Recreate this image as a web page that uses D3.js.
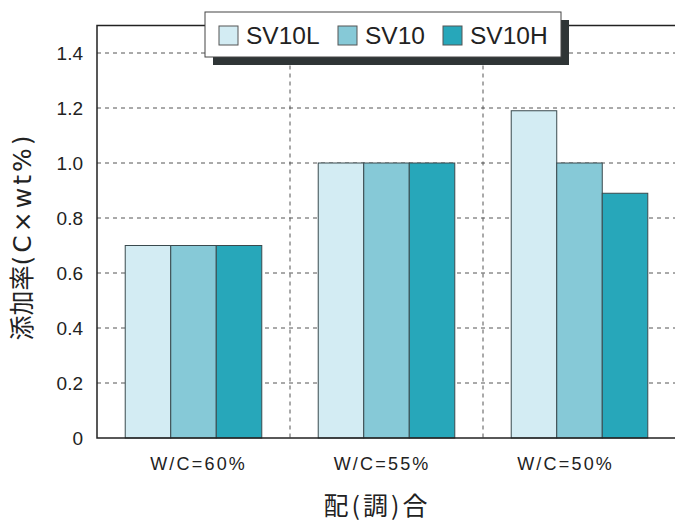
<!DOCTYPE html>
<html>
<head>
<meta charset="utf-8">
<script src="https://cdn.jsdelivr.net/npm/d3@7"></script>
<style>
  html, body { margin: 0; padding: 0; background: #fff; }
  svg { display: block; }
</style>
</head>
<body>
<svg id="chart" width="675" height="521"></svg>
<script>
// Mix designs (water/cement ratio) along the x axis
const categories = ["W/C=60%", "W/C=55%", "W/C=50%"];
// Admixture series
const seriesNames = ["SV10L", "SV10", "SV10H"];
const seriesColors = ["#d3ecf3", "#86c9d7", "#27a7ba"];
// Dosage (C×wt%) per series, one value per mix
const valuesSV10L = [0.70, 1.00, 1.19];
const valuesSV10 = [0.70, 1.00, 1.00];
const valuesSV10H = [0.70, 1.00, 0.89];
const yTicks = [0, 0.2, 0.4, 0.6, 0.8, 1.0, 1.2, 1.4];
const yTitleMain = "添加率";
const yTitleUnit = "(C×wt%)";
const xTitle = "配(調)合";

const seriesValues = [valuesSV10L, valuesSV10, valuesSV10H];

const svg = d3.select("#chart");
const plotLeft = 97, plotRight = 676, plotTop = 25.5, plotBottom = 438;

const x = d3.scaleBand().domain(categories).range([plotLeft, plotRight]).paddingInner(0).paddingOuter(0);
const xs = d3.scaleBand().domain(seriesNames).range([0, x.bandwidth()]).paddingInner(0).paddingOuter(0.62);
// category captions sit on a slightly tighter spread than the bar groups
const xLabel = d3.scalePoint().domain(categories).range([197, 564]);
const y = d3.scaleLinear().domain([0, 1.5]).range([plotBottom, plotTop]);

// Horizontal dashed gridlines
svg.append("g")
  .selectAll("line")
  .data(yTicks.filter(d => d > 0))
  .join("line")
  .attr("x1", plotLeft).attr("x2", plotRight)
  .attr("y1", d => y(d)).attr("y2", d => y(d))
  .attr("stroke", "#555").attr("stroke-width", 1)
  .attr("stroke-dasharray", "4,4");

// Vertical dashed separators between mixes
svg.append("g")
  .selectAll("line")
  .data(categories.slice(1))
  .join("line")
  .attr("x1", d => x(d)).attr("x2", d => x(d))
  .attr("y1", plotTop).attr("y2", plotBottom)
  .attr("stroke", "#555").attr("stroke-width", 1)
  .attr("stroke-dasharray", "4,4");

// Bars
const groups = svg.append("g")
  .selectAll("g")
  .data(categories)
  .join("g")
  .attr("transform", d => `translate(${x(d)},0)`);

groups.selectAll("rect")
  .data((c, i) => seriesNames.map((s, k) => ({ s, k, v: seriesValues[k][i] })))
  .join("rect")
  .attr("x", d => xs(d.s))
  .attr("width", xs.bandwidth())
  .attr("y", d => y(d.v))
  .attr("height", d => plotBottom - y(d.v))
  .attr("fill", d => seriesColors[d.k])
  .attr("stroke", "#3a4a4e")
  .attr("stroke-width", 1);

// Plot frame
svg.append("rect")
  .attr("x", plotLeft).attr("y", plotTop)
  .attr("width", plotRight - plotLeft).attr("height", plotBottom - plotTop)
  .attr("fill", "none").attr("stroke", "#222").attr("stroke-width", 1.5);

// Y axis labels
const yAxis = d3.axisLeft(y).tickValues(yTicks)
  .tickFormat(d => d === 0 ? "0" : d3.format(".1f")(d))
  .tickSize(0).tickPadding(14);
const gy = svg.append("g").attr("transform", `translate(${plotLeft},0)`).call(yAxis);
gy.select(".domain").remove();
gy.selectAll("text")
  .style("font-family", "'Liberation Sans', Arial, sans-serif")
  .style("font-size", "19px").style("fill", "#222");

// X category labels
const xAxis = d3.axisBottom(xLabel).tickSize(0).tickPadding(0);
const gx = svg.append("g").attr("transform", `translate(1.1,${plotBottom})`).call(xAxis);
gx.select(".domain").remove();
gx.selectAll("text")
  .attr("y", 32).attr("dy", null)
  .style("font-family", "'Liberation Sans', Arial, sans-serif")
  .style("font-size", "18px").style("letter-spacing", "2.2px").style("fill", "#222");

// Axis titles
const yt = svg.append("text")
  .attr("transform", `translate(31,236.5) rotate(-90)`)
  .attr("text-anchor", "middle")
  .style("font-size", "25px").style("fill", "#222");
yt.append("tspan")
  .style("font-family", "'Noto Sans CJK JP', sans-serif")
  .text(yTitleMain);
yt.append("tspan")
  .style("font-family", "'DejaVu Sans', sans-serif")
  .style("letter-spacing", "3px")
  .text(yTitleUnit);

svg.append("text")
  .attr("x", 377).attr("y", 515)
  .attr("text-anchor", "middle")
  .style("font-family", "'Noto Sans CJK JP', sans-serif")
  .style("font-size", "25px").style("letter-spacing", "3px").style("fill", "#222")
  .text(xTitle);

// Legend with drop shadow
const lg = svg.append("g");
lg.append("rect").attr("x", 213).attr("y", 20).attr("width", 356).attr("height", 45).attr("fill", "#2f3536");
lg.append("rect").attr("x", 205).attr("y", 12).attr("width", 356).attr("height", 45)
  .attr("fill", "#fff").attr("stroke", "#444").attr("stroke-width", 1);
const legendX = [219, 338, 443];
const items = lg.selectAll("g.item")
  .data(seriesNames)
  .join("g").attr("class", "item")
  .attr("transform", (d, i) => `translate(${legendX[i]},26)`);
items.append("rect")
  .attr("width", 19).attr("height", 19)
  .attr("fill", (d, i) => seriesColors[i])
  .attr("stroke", "#555").attr("stroke-width", 1);
items.append("text")
  .attr("x", 27).attr("y", 18)
  .style("font-family", "'Liberation Sans', Arial, sans-serif")
  .style("font-size", "24.5px").style("fill", "#222")
  .text(d => d);
</script>
</body>
</html>
